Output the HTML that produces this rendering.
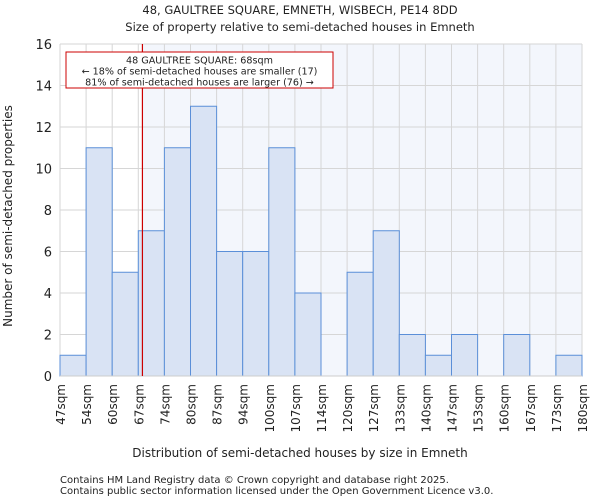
<!DOCTYPE html>
<html><head><meta charset="utf-8"><style>
body{margin:0;background:#fff;font-family:"DejaVu Sans","Liberation Sans",sans-serif;}
svg text{font-family:"DejaVu Sans","Liberation Sans",sans-serif;fill:#222;}
</style></head><body>
<svg id="c" width="600" height="500">
<text x="300" y="14" text-anchor="middle" font-size="11.5">48, GAULTREE SQUARE, EMNETH, WISBECH, PE14 8DD</text>
<text x="300" y="31" text-anchor="middle" font-size="11.5">Size of property relative to semi-detached houses in Emneth</text>
<g id="plot"></g>
<text x="300" y="457" text-anchor="middle" font-size="12">Distribution of semi-detached houses by size in Emneth</text>
<text transform="translate(12,216) rotate(-90)" text-anchor="middle" font-size="12">Number of semi-detached properties</text>
<text x="60" y="483" font-size="10" fill="#444">Contains HM Land Registry data © Crown copyright and database right 2025.</text>
<text x="60" y="494" font-size="10" fill="#444">Contains public sector information licensed under the Open Government Licence v3.0.</text>
</svg>
<script>
const binLabels=["47sqm","54sqm","60sqm","67sqm","74sqm","80sqm","87sqm","94sqm","100sqm","107sqm","114sqm","120sqm","127sqm","133sqm","140sqm","147sqm","153sqm","160sqm","167sqm","173sqm","180sqm"];
const counts=[1,11,5,7,11,13,6,6,11,4,0,5,7,2,1,2,0,2,0,1];
const yTicks=[0,2,4,6,8,10,12,14,16];
const subjectSize=68;
const binStart=47, binEnd=180;
const L=60,R=582,T=44,B=376,yMax=16;
const ns="http://www.w3.org/2000/svg";
const g=document.getElementById('plot');
const n=counts.length;
const xs=i=>L+(R-L)*i/n;
const xv=v=>L+(R-L)*(v-binStart)/(binEnd-binStart);
const y=v=>B-(B-T)*v/yMax;
function mk(t,a){const e=document.createElementNS(ns,t);for(const k in a)e.setAttribute(k,a[k]);g.appendChild(e);return e;}
const sx=xv(subjectSize);
let e=mk('rect',{x:sx,y:T,width:R-sx,height:B-T,fill:'#f3f6fc'});


yTicks.forEach(t=>{let l=mk('line',{x1:L,x2:R,y1:y(t),y2:y(t),stroke:'#d6d6d6','stroke-width':1});


let tx=mk('text',{x:L-8,y:y(t)+5,'text-anchor':'end','font-size':13});tx.textContent=t;

});
binLabels.forEach((s,i)=>{let l=mk('line',{x1:xs(i),x2:xs(i),y1:T,y2:B,stroke:'#d6d6d6','stroke-width':1});


let tx=mk('text',{transform:`translate(${xs(i)+5},${B+8}) rotate(-90)`,'text-anchor':'end','font-size':12});tx.textContent=s;

});
counts.forEach((c,i)=>{if(!c)return;let r=mk('rect',{x:xs(i),y:y(c),width:xs(i+1)-xs(i),height:B-y(c),fill:'#d9e3f4',stroke:'#5b8fd8','stroke-width':1});

});
let ax=mk('line',{x1:L,x2:R,y1:B,y2:B,stroke:'#ccc'});


let rl=mk('line',{x1:sx,x2:sx,y1:T,y2:B,stroke:'#cc0000','stroke-width':1.2});


let bx=mk('rect',{x:66,y:52,width:267,height:36,fill:'#fff',stroke:'#cc0000','stroke-width':1});


["48 GAULTREE SQUARE: 68sqm","← 18% of semi-detached houses are smaller (17)","81% of semi-detached houses are larger (76) →"].forEach((s,i)=>{let t=mk('text',{x:199.5,y:63.5+i*11,'text-anchor':'middle','font-size':9.6});t.textContent=s;

});
</script>
</body></html>
